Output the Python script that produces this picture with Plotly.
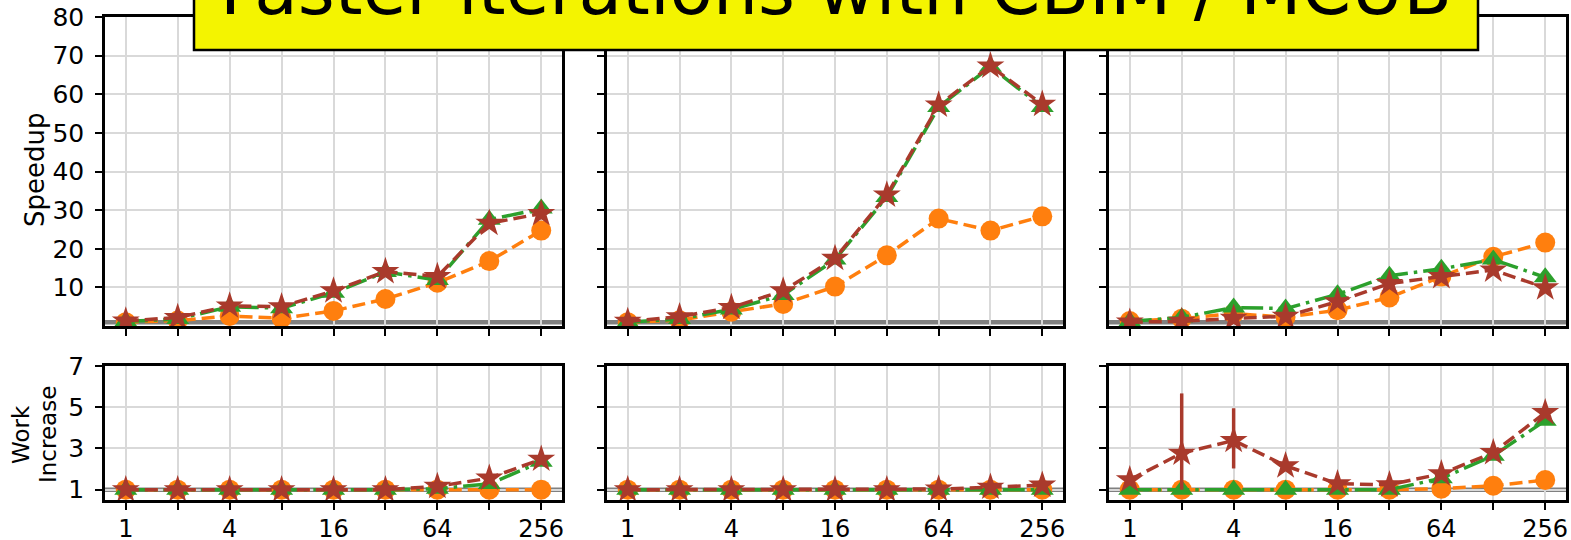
import plotly.graph_objects as go
import math

W, H = 1571, 540

threads = [1, 2, 4, 8, 16, 32, 64, 128, 256]
tick_text = ['1', '', '4', '', '16', '', '64', '', '256']
speedup_ticks = [10, 20, 30, 40, 50, 60, 70, 80]
work_ticks = [1, 3, 5, 7]

# Speedup (top row)
sp_orange_1 = [1.0, 1.4, 2.6, 2.0, 3.9, 7.0, 11.2, 16.8, 24.7]
sp_green_1 = [1.2, 1.8, 5.0, 4.6, 8.6, 14.0, 11.9, 27.5, 30.4]
sp_brown_1 = [1.3, 2.2, 5.2, 5.0, 9.1, 14.1, 12.8, 26.6, 29.1]

sp_orange_2 = [1.0, 1.5, 3.7, 5.7, 10.2, 18.3, 27.8, 24.7, 28.4]
sp_green_2 = [1.0, 1.8, 4.3, 8.0, 17.2, 33.4, 56.7, 67.1, 56.7]
sp_brown_2 = [1.2, 2.4, 4.8, 9.1, 17.5, 33.9, 57.2, 67.3, 57.4]

sp_orange_3 = [1.3, 1.9, 3.2, 2.3, 4.1, 7.4, 12.8, 17.9, 21.6]
sp_green_3 = [1.2, 2.2, 4.8, 4.5, 8.2, 13.0, 14.8, 17.2, 12.6]
sp_brown_3 = [1.0, 1.2, 2.0, 2.5, 6.3, 11.0, 12.8, 14.5, 9.9]

# Work increase (bottom row)
wi_orange_1 = [1.0, 1.0, 1.0, 1.0, 1.0, 1.0, 1.0, 1.0, 1.0]
wi_green_1 = [1.0, 1.0, 1.0, 1.0, 1.0, 1.0, 1.05, 1.28, 2.35]
wi_brown_1 = [1.0, 1.0, 1.0, 1.0, 1.0, 1.0, 1.16, 1.56, 2.48]

wi_orange_2 = [1.0, 1.0, 1.0, 1.0, 1.0, 1.0, 1.0, 1.0, 1.0]
wi_green_2 = [1.0, 1.0, 1.0, 1.0, 1.0, 1.0, 1.0, 1.0, 1.0]
wi_brown_2 = [1.0, 1.0, 1.0, 1.0, 1.0, 1.0, 1.03, 1.12, 1.22]

wi_orange_3 = [1.0, 1.0, 1.0, 1.0, 1.0, 1.0, 1.05, 1.19, 1.47]
wi_green_3 = [1.0, 1.0, 1.0, 1.0, 1.0, 1.0, 1.55, 2.65, 4.35]
wi_brown_3 = [1.48, 2.77, 3.39, 2.16, 1.29, 1.24, 1.77, 2.8, 4.74]
wi_brown_3_err_plus = [0, 2.9, 1.56, 0, 0, 0, 0, 0, 0]
wi_brown_3_err_minus = [0, 1.77, 1.36, 0, 0, 0, 0, 0, 0]

title_text = "Faster iterations with CBIM / MCUB"

ORANGE = '#ff7f0e'
GREEN = '#2ca02c'
BROWN = '#a93a2c'
FONT = 'DejaVu Sans'
TICK_SIZE = 25
XTICK_SIZE = 24

fig = go.Figure()


def px_x(p):
    return p / W


def px_y(p):
    return 1 - p / H


col_px = [(105, 562), (607, 1063), (1109, 1566)]
row_px = [(17, 326), (366, 500)]


def add_series(xa, ya, o, g, b, err=None):
    fig.add_trace(go.Scatter(x=threads, y=o, xaxis=xa, yaxis=ya, mode='lines+markers',
                             line=dict(color=ORANGE, width=3.5, dash='13px,6px'),
                             marker=dict(symbol='circle', size=20, color=ORANGE, line=dict(width=0)),
                             showlegend=False))
    fig.add_trace(go.Scatter(x=threads, y=g, xaxis=xa, yaxis=ya, mode='lines+markers',
                             line=dict(color=GREEN, width=3.5, dash='22px,6px,3.5px,6px'),
                             marker=dict(symbol='triangle-up', size=20, color=GREEN, line=dict(width=0)),
                             showlegend=False))
    kw = {}
    if err is not None:
        kw['error_y'] = dict(type='data', array=err[0], arrayminus=err[1], symmetric=False,
                             color=BROWN, thickness=3.5, width=0)
    fig.add_trace(go.Scatter(x=threads, y=b, xaxis=xa, yaxis=ya, mode='lines+markers',
                             line=dict(color=BROWN, width=3.5, dash='13px,6px'),
                             marker=dict(symbol='star', size=21, color=BROWN, line=dict(width=0)),
                             showlegend=False, **kw))


add_series('x', 'y', sp_orange_1, sp_green_1, sp_brown_1)
add_series('x2', 'y2', sp_orange_2, sp_green_2, sp_brown_2)
add_series('x3', 'y3', sp_orange_3, sp_green_3, sp_brown_3)
add_series('x4', 'y4', wi_orange_1, wi_green_1, wi_brown_1)
add_series('x5', 'y5', wi_orange_2, wi_green_2, wi_brown_2)
add_series('x6', 'y6', wi_orange_3, wi_green_3, wi_brown_3,
           err=(wi_brown_3_err_plus, wi_brown_3_err_minus))

xr = [math.log10(2) * -0.4, math.log10(2) * 8.4]

layout = dict(width=W, height=H, margin=dict(l=0, r=0, t=0, b=0, autoexpand=False),
              paper_bgcolor='white', plot_bgcolor='white',
              font=dict(family=FONT, size=TICK_SIZE, color='black'))

for i in range(6):
    r = i // 3
    c = i % 3
    n = '' if i == 0 else str(i + 1)
    layout['xaxis' + n] = dict(
        type='log', range=xr, domain=[px_x(col_px[c][0]), px_x(col_px[c][1])],
        anchor='y' + n, tickvals=threads, ticktext=tick_text,
        showticklabels=(r == 1), ticks='outside', ticklen=7, tickwidth=2, tickcolor='black',
        showgrid=True, gridcolor='#d9d9d9', gridwidth=1.8,
        showline=True, linecolor='black', linewidth=2.5, mirror=True, zeroline=False,
        tickfont=dict(size=XTICK_SIZE, family=FONT), automargin=False, ticklabelstandoff=-2)
    if r == 0:
        yd = dict(range=[0, 80], tickvals=speedup_ticks)
    else:
        yd = dict(range=[0.5, 7], tickvals=work_ticks)
    layout['yaxis' + n] = dict(
        domain=[px_y(row_px[r][1]), px_y(row_px[r][0])], anchor='x' + n,
        showticklabels=(c == 0), ticks='outside', ticklen=7, tickwidth=2, tickcolor='black',
        showgrid=True, gridcolor='#d9d9d9', gridwidth=1.8,
        showline=True, linecolor='black', linewidth=2.5, mirror=True, zeroline=False,
        tickfont=dict(size=TICK_SIZE, family=FONT), automargin=False, ticklabelstandoff=6, **yd)

shapes = []
for i in range(6):
    n = '' if i == 0 else str(i + 1)
    shapes.append(dict(type='line', xref='x' + n + ' domain', yref='y' + n,
                       x0=0, x1=1, y0=1, y1=1, line=dict(color='#808080', width=4.5),
                       layer='below'))

# title box
shapes.append(dict(type='rect', xref='paper', yref='paper',
                   x0=px_x(194), x1=px_x(1478), y0=px_y(50), y1=px_y(-60),
                   fillcolor='#f4f400', line=dict(color='black', width=2.5), layer='above'))
layout['shapes'] = shapes

annotations = [
    dict(text=title_text, xref='paper', yref='paper', x=px_x(836), y=px_y(-11),
         xanchor='center', yanchor='middle', showarrow=False,
         font=dict(size=71, family=FONT, color='black')),
    dict(text='Speedup', xref='paper', yref='paper', x=px_x(35), y=px_y(170),
         xanchor='center', yanchor='middle', textangle=-90, showarrow=False,
         font=dict(size=26, family=FONT)),
    dict(text='Work', xref='paper', yref='paper', x=px_x(21), y=px_y(435),
         xanchor='center', yanchor='middle', textangle=-90, showarrow=False,
         font=dict(size=23, family=FONT)),
    dict(text='Increase', xref='paper', yref='paper', x=px_x(48), y=px_y(435),
         xanchor='center', yanchor='middle', textangle=-90, showarrow=False,
         font=dict(size=23, family=FONT)),
]
layout['annotations'] = annotations

fig.update_layout(**layout)
fig.write_html('out.html', config={'displayModeBar': False},
               post_script="document.body.style.margin='0px';")
